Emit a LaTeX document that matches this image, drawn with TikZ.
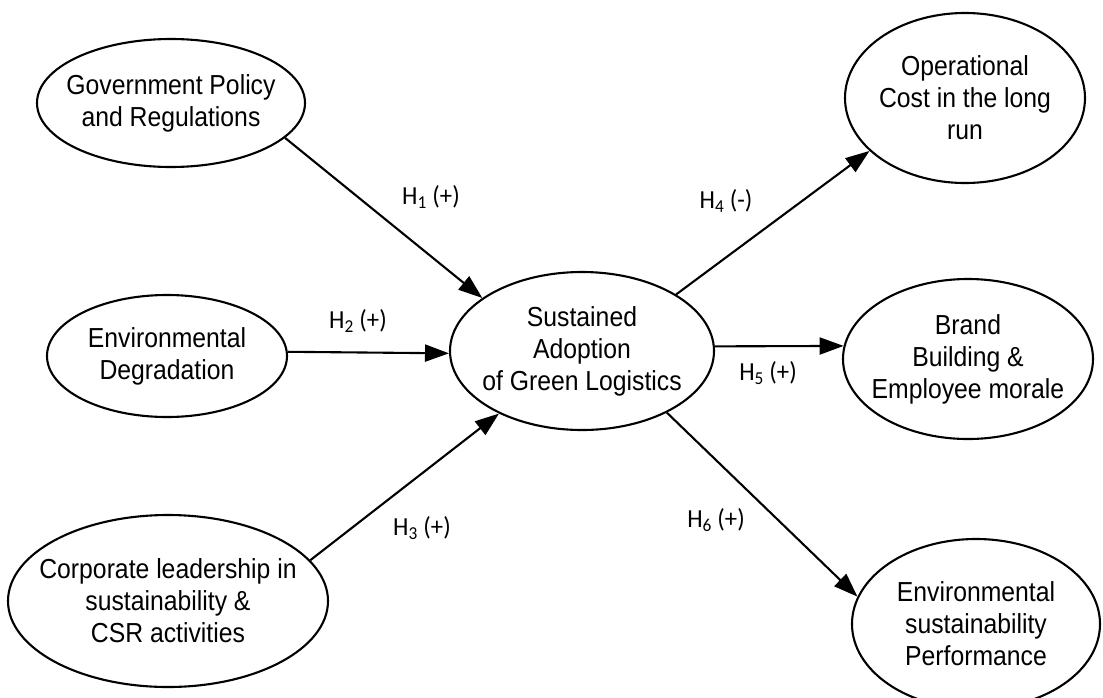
\documentclass[tikz,border=0pt]{standalone}
\usepackage{fontspec}
\usetikzlibrary{arrows.meta,shapes.geometric}
\newfontfamily\nodefont[FakeStretch=0.9]{Liberation Sans}
\newfontfamily\labfont[FakeStretch=0.95]{Carlito}
\begin{document}
\begin{tikzpicture}[x=1pt,y=-1pt,
  oval/.style={ellipse, draw, line width=2.1pt, inner xsep=-25pt, inner ysep=0pt,
    align=center, font=\nodefont\fontsize{27.5}{32}\selectfont},
  lab/.style={font=\labfont\fontsize{26}{30}\selectfont, inner sep=0pt},
  conn/.style={line width=2.1pt, -{Triangle[length=24pt,width=17pt]}}]
\useasboundingbox (0,0) rectangle (1103,697);
\fill[white] (0,0) rectangle (1103,697);
\node[oval, minimum width=268pt, minimum height=128pt] (gov) at (171,103) {Government Policy\\and Regulations};
\node[oval, minimum width=240pt, minimum height=122pt] (env) at (167,356) {Environmental\\Degradation};
\node[oval, minimum width=320pt, minimum height=172pt] (corp) at (168,601) {Corporate leadership in\\sustainability \&\\CSR activities};
\node[oval, minimum width=264pt, minimum height=158pt] (sust) at (582,351) {Sustained\\Adoption\\of Green Logistics};
\node[oval, minimum width=240pt, minimum height=170pt] (op) at (965,98) {Operational\\Cost in the long\\run};
\node[oval, minimum width=250pt, minimum height=160pt] (brand) at (968,359) {Brand\\Building \&\\Employee morale};
\node[oval, minimum width=248pt, minimum height=170pt] (envs) at (976,624) {Environmental\\sustainability\\Performance};
\draw[conn] (gov.-17.5) -- (sust.152.6);
\draw[conn] (env.2) -- (sust.181);
\draw[conn] (corp.16.8) -- (sust.217);
\draw[conn] (sust.31) -- (op.209);
\draw[conn] (sust.2) -- (brand.174.5);
\draw[conn] (sust.-36.8) -- (envs.167);
\node[lab] (h1) at (431,197) {H\textsubscript{1} (+)};
\node[lab] (h2) at (358,321) {H\textsubscript{2} (+)};
\node[lab] (h3) at (422,528) {H\textsubscript{3} (+)};
\node[lab] (h4) at (726,201) {H\textsubscript{4} (-)};
\node[lab] (h5) at (768,373) {H\textsubscript{5} (+)};
\node[lab] (h6) at (716,520) {H\textsubscript{6} (+)};
\end{tikzpicture}
\end{document}
